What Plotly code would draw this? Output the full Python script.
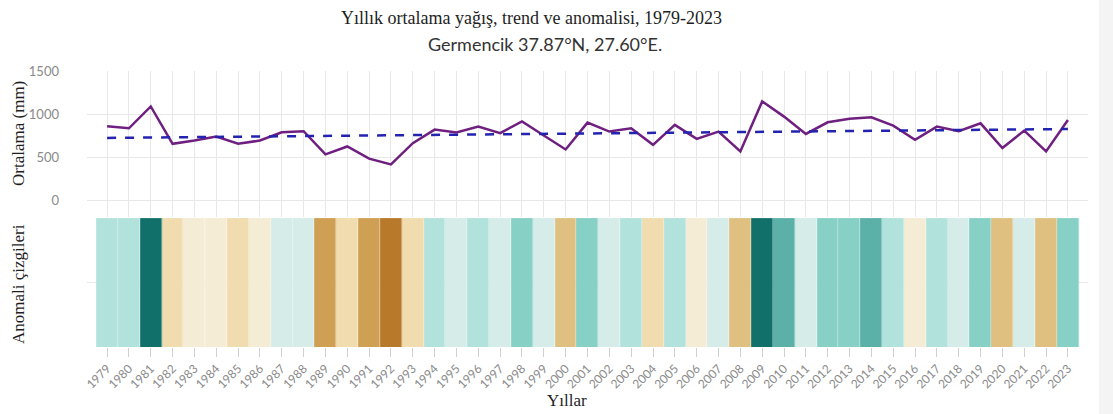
import numpy as np
import plotly.graph_objects as go

# Annual mean precipitation (mm), Germencik
years = list(range(1979, 2024))
precip = [857, 834, 1088, 654, 692, 738, 654, 692, 788, 800,
          531, 623, 481, 415, 661, 819, 785, 854, 777, 915,
          750, 588, 900, 796, 834, 642, 873, 711, 796, 565,
          1146, 970, 769, 904, 946, 962, 865, 700, 854, 800,
          892, 604, 808, 565, 931]

# Stripe classes: bin edges (mm) and the colour of each class
bin_edges = [350, 450, 545, 615, 680, 745, 812, 880, 958, 1030, 1200]
bin_colors = ["#b9792b", "#cf9f53", "#e0c080", "#f0dcae", "#f5ecd6",
              "#d5ece9", "#b2e2dc", "#86d0c5", "#5bb0a7", "#12706a"]

y_ticks = [0, 500, 1000, 1500]

# Linear trend fitted to the annual series
slope, intercept = np.polyfit(years, precip, 1)
trend = [slope * y + intercept for y in years]

# Stepped colour scale built from the bin edges
zmin, zmax = bin_edges[0], bin_edges[-1]
colorscale = []
for i, c in enumerate(bin_colors):
    lo = (bin_edges[i] - zmin) / (zmax - zmin)
    hi = (bin_edges[i + 1] - zmin) / (zmax - zmin)
    colorscale.append([lo, c])
    colorscale.append([hi, c])

fig = go.Figure()

fig.add_trace(go.Scatter(
    x=years, y=precip, mode="lines",
    line=dict(color="#6e1f7f", width=2.5),
    xaxis="x", yaxis="y", showlegend=False,
))
fig.add_trace(go.Scatter(
    x=years, y=trend, mode="lines",
    line=dict(color="#2323b0", width=2.5, dash="dash"),
    xaxis="x", yaxis="y", showlegend=False,
))
fig.add_trace(go.Heatmap(
    x=years, y=[0.5], z=[precip],
    zmin=zmin, zmax=zmax, colorscale=colorscale,
    showscale=False, xgap=0.4,
    xaxis="x2", yaxis="y2",
))

grid = "#e8e8e8"
xrange = [1978.08, 2023.92]

fig.update_layout(
    width=1113, height=414,
    margin=dict(l=87, r=25, t=71, b=67),
    paper_bgcolor="white", plot_bgcolor="white",
    font=dict(family="Lato", color="#8a8a8a"),
    xaxis=dict(domain=[0, 1], anchor="y", range=xrange,
               tickvals=years, showticklabels=False, ticks="",
               showgrid=True, gridcolor=grid, gridwidth=1,
               zeroline=False, showline=False),
    yaxis=dict(domain=[0.471, 1], anchor="x", range=[-197, 1500],
               tickvals=y_ticks, showgrid=True, gridcolor=grid,
               zeroline=False, ticks="", ticklabelstandoff=27,
               tickfont=dict(family="Lato", size=13, color="#8a8a8a")),
    xaxis2=dict(domain=[0, 1], anchor="y2", range=xrange,
                tickvals=years, ticktext=[str(y) for y in years],
                tickangle=-45, ticks="outside", ticklen=9,
                tickcolor="#d0d0d0", showgrid=True, gridcolor=grid,
                zeroline=False, showline=False,
                tickfont=dict(family="Lato", size=12, color="#8a8a8a")),
    yaxis2=dict(domain=[0, 0.467], anchor="x2", range=[0, 1],
                tickvals=[0, 0.5, 1], showticklabels=False,
                showgrid=True, gridcolor=grid, zeroline=False, ticks=""),
)


def px_x(px):
    return (px - 87) / 1001


def px_y(py):
    return (347 - py) / 276


serif = "Liberation Serif"
common = dict(xref="paper", yref="paper", showarrow=False,
              xanchor="center", yanchor="middle")
fig.add_annotation(text="Yıllık ortalama yağış, trend ve anomalisi, 1979-2023",
                   x=px_x(531), y=px_y(18),
                   font=dict(family=serif, size=18, color="#1e1e1e"), **common)
fig.add_annotation(text="Germencik 37.87°N, 27.60°E.",
                   x=px_x(545), y=px_y(44),
                   font=dict(family="Lato", size=18, color="#333333"), **common)
fig.add_annotation(text="Ortalama (mm)", textangle=-90,
                   x=px_x(18), y=px_y(134),
                   font=dict(family=serif, size=17, color="#1e1e1e"), **common)
fig.add_annotation(text="Anomali çizgileri", textangle=-90,
                   x=px_x(18), y=px_y(284),
                   font=dict(family=serif, size=17, color="#1e1e1e"), **common)
fig.add_annotation(text="Yıllar",
                   x=px_x(567), y=px_y(400),
                   font=dict(family=serif, size=17, color="#1e1e1e"), **common)

# light strip along the right edge of the page
fig.add_shape(type="rect", xref="paper", yref="paper",
              x0=px_x(1099), x1=px_x(1120), y0=-0.3, y1=1.3,
              line=dict(width=0), fillcolor="#f4f4f4", layer="below")

fig.write_html("out.html")
